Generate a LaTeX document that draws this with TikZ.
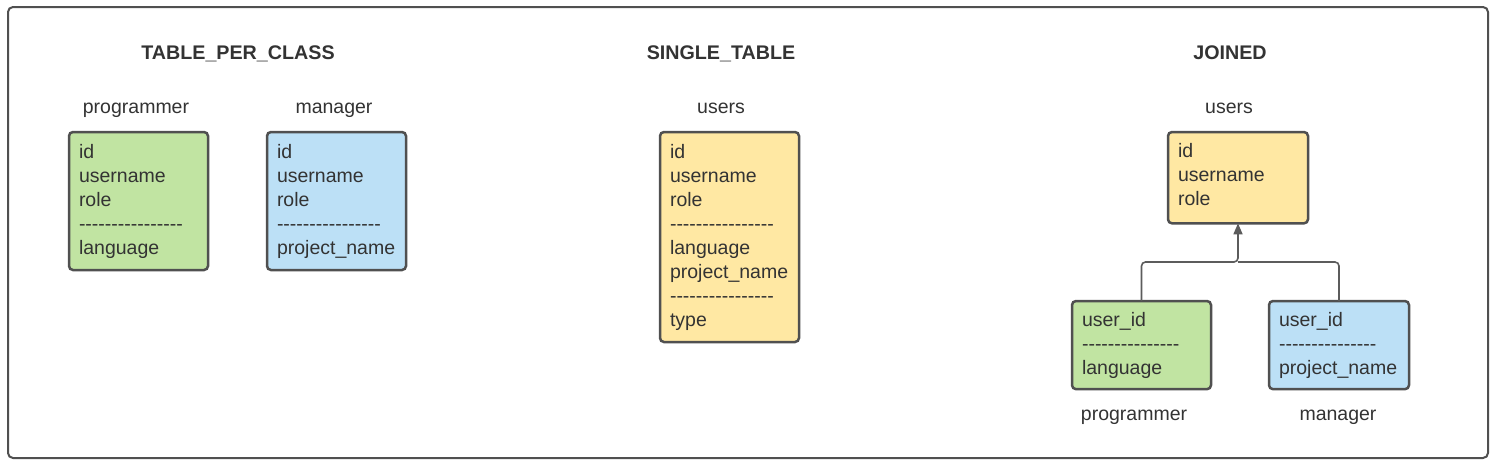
\documentclass[tikz,border=0pt]{standalone}
\usepackage{fontspec}
\setmainfont{Liberation Sans}
\usetikzlibrary{arrows.meta}
\definecolor{ink}{HTML}{333333}
\definecolor{frameGray}{HTML}{505050}
\definecolor{linkGray}{HTML}{5C5C5C}
\definecolor{progGreen}{HTML}{C1E4A2}
\definecolor{mgrBlue}{HTML}{BCE0F6}
\definecolor{userYellow}{HTML}{FFE8A3}
\newcommand{\hyrow}[1]{\foreach \i in {1,...,#1}{-}}
\begin{document}
\begin{tikzpicture}[x=1pt, y=-1pt,
  tbl/.style={draw=frameGray, line width=2.5pt, rounded corners=4pt, anchor=north west, outer sep=0pt, inner xsep=10pt, inner ysep=11pt, align=left, text=ink, font=\fontsize{19.5}{24}\selectfont},
  lbl/.style={anchor=base, text=ink, font=\fontsize{19.5}{24}\selectfont},
  ttl/.style={anchor=base, text=ink, font=\bfseries\fontsize{19.7}{22}\selectfont},
  link/.style={draw=linkGray, line width=1.6pt, rounded corners=4pt}]
\useasboundingbox[fill=white] (0,0) rectangle (1494,464);
\draw[frameGray, line width=2pt, rounded corners=5pt] (8,7) rectangle (1488,458);
\node[ttl] (tpc) at (238,59) {TABLE\_PER\_CLASS};
\node[ttl] (st) at (721,59) {SINGLE\_TABLE};
\node[ttl] (jd) at (1230,59) {JOINED};
\node[lbl] (tpcProgLbl) at (136,113) {programmer};
\node[lbl] (tpcMgrLbl) at (334,113) {manager};
\node[lbl] (stUsersLbl) at (721,113) {users};
\node[lbl] (jdUsersLbl) at (1229,113) {users};
\node[lbl] (jdProgLbl) at (1134,420) {programmer};
\node[lbl] (jdMgrLbl) at (1338,420) {manager};
\node[tbl, fill=progGreen, text width=119pt, minimum height=138pt] (tpcProg) at (69,132) {id\\username\\role\\\hyrow{16}\\language};
\node[tbl, fill=mgrBlue, text width=119pt, minimum height=138pt] (tpcMgr) at (267,132) {id\\username\\role\\\hyrow{16}\\project\_name};
\node[tbl, fill=userYellow, text width=119pt, minimum height=210pt] (stUsers) at (660,132) {id\\username\\role\\\hyrow{16}\\language\\project\_name\\\hyrow{16}\\type};
\node[tbl, fill=userYellow, text width=120pt] (jdUsers) at (1168,132) {id\\username\\role\strut};
\node[tbl, fill=progGreen, text width=119pt, minimum height=88pt] (jdProg) at (1072,301) {user\_id\\\hyrow{15}\\language};
\node[tbl, fill=mgrBlue, text width=120pt, minimum height=88pt] (jdMgr) at (1269,301) {user\_id\\\hyrow{15}\\project\_name};
\coordinate (fork) at (jdUsers.south |- 0,262);
\draw[link, -{Triangle[length=11pt, width=9pt]}] (jdProg.north) |- (fork) -- (jdUsers.south);
\draw[link] (jdMgr.north) |- (fork);
\end{tikzpicture}
\end{document}
